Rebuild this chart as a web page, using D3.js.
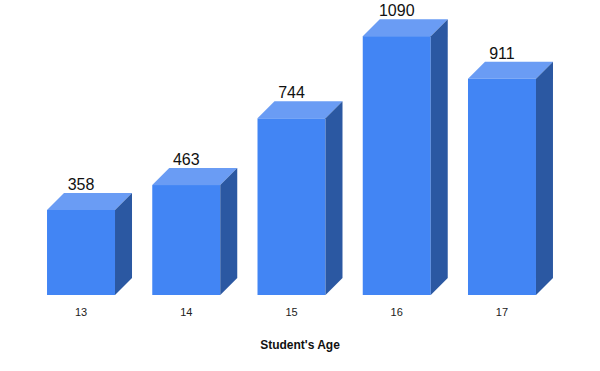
<!DOCTYPE html>
<html>
<head>
<meta charset="utf-8">
<script src="https://cdn.jsdelivr.net/npm/d3@7"></script>
<style>
  body { margin: 0; background: #fff; }
  text { font-family: "Liberation Sans", Arial, sans-serif; }
</style>
</head>
<body>
<div id="chart"></div>
<script>
// data
var ages = ["13", "14", "15", "16", "17"];
var counts = [358, 463, 744, 1090, 911];

var width = 600, height = 371;
var depth = 17;

var svg = d3.select("#chart")
  .append("svg")
    .attr("width", width)
    .attr("height", height);

var x = d3.scaleBand()
  .domain(ages)
  .range([28.4, 554.6])
  .paddingInner(0.354)
  .paddingOuter(0.177);

var y = d3.scaleLinear()
  .domain([0, 1200])
  .range([295, 10]);

var bars = svg.selectAll(".bar")
  .data(ages)
  .enter()
  .append("g")
  .attr("class", "bar");

// front face
bars.append("rect")
  .attr("x", function(d) { return x(d); })
  .attr("y", function(d, i) { return y(counts[i]); })
  .attr("width", x.bandwidth())
  .attr("height", function(d, i) { return y(0) - y(counts[i]); })
  .attr("fill", "#4285f4");

// top face
bars.append("path")
  .attr("d", function(d, i) {
    var x0 = x(d), x1 = x(d) + x.bandwidth(), t = y(counts[i]);
    return "M" + x0 + "," + t + "L" + (x0 + depth) + "," + (t - depth) +
      "L" + (x1 + depth) + "," + (t - depth) + "L" + x1 + "," + t + "Z";
  })
  .attr("fill", "#6a9cf4");

// side face
bars.append("path")
  .attr("d", function(d, i) {
    var x1 = x(d) + x.bandwidth(), t = y(counts[i]), b = y(0);
    return "M" + x1 + "," + t + "L" + (x1 + depth) + "," + (t - depth) +
      "L" + (x1 + depth) + "," + (b - depth) + "L" + x1 + "," + b + "Z";
  })
  .attr("fill", "#2b58a2");

// value labels
bars.append("text")
  .attr("x", function(d) { return x(d) + x.bandwidth() / 2; })
  .attr("y", function(d, i) { return y(counts[i]) - 20; })
  .attr("text-anchor", "middle")
  .style("font-size", "16px")
  .style("fill", "#111")
  .text(function(d, i) { return counts[i]; });

// x axis
var xAxis = svg.append("g")
  .attr("transform", "translate(0," + y(0) + ")")
  .call(d3.axisBottom(x).tickSize(0).tickPadding(13));
xAxis.select(".domain").remove();
xAxis.selectAll("text")
  .style("font-size", "11px")
  .style("fill", "#222")
  .style("font-family", "Liberation Sans, Arial, sans-serif");

svg.append("text")
  .attr("x", 300)
  .attr("y", 349)
  .attr("text-anchor", "middle")
  .style("font-size", "12px")
  .style("font-weight", "bold")
  .style("fill", "#111")
  .text("Student's Age");
</script>
</body>
</html>
